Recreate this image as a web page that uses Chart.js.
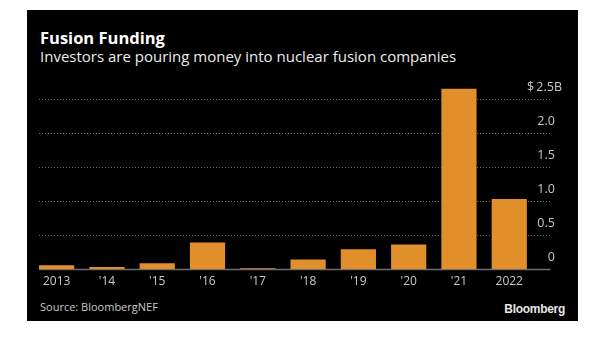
<!DOCTYPE html>
<html>
<head>
<meta charset="utf-8">
<script src="https://cdn.jsdelivr.net/npm/chart.js@4.4.1/dist/chart.umd.min.js"></script>
<style>
  html, body { margin: 0; padding: 0; background: #fff; width: 602px; height: 339px; overflow: hidden; }
  #panel { position: absolute; left: 27px; top: 10px; width: 551px; height: 311px; background: #000; }
  #title { position: absolute; left: 40px; top: 29.5px; color: #fff; font: bold 16.5px/1 "Open Sans", sans-serif; white-space: nowrap; }
  #subtitle { position: absolute; left: 40px; top: 48.5px; color: #ececec; font: 15px/1 "Open Sans", sans-serif; white-space: nowrap; }
  #source { position: absolute; left: 40px; top: 301px; color: #c8c8c8; font: 11px/1 "Open Sans", sans-serif; white-space: nowrap; }
  #logo { position: absolute; right: 37px; top: 302px; color: #e6e6e6; font: bold 12px "Liberation Sans", Arial, sans-serif; letter-spacing: -0.3px; white-space: nowrap; }
  #wrap { position: absolute; left: 0; top: 0; width: 602px; height: 339px; }
</style>
</head>
<body>
<div id="panel"></div>
<div id="title">Fusion Funding</div>
<div id="subtitle">Investors are pouring money into nuclear fusion companies</div>
<div id="source">Source: BloombergNEF</div>
<div id="logo">Bloomberg</div>
<div id="wrap"><canvas id="c" width="602" height="339"></canvas></div>
<script>
// Data (billions of USD)
const categories = ["2013", "'14", "'15", "'16", "'17", "'18", "'19", "'20", "'21", "2022"];
const funding = [0.055, 0.03, 0.085, 0.39, 0.01, 0.14, 0.29, 0.36, 2.65, 1.03];
const yTicks = [0, 0.5, 1.0, 1.5, 2.0, 2.5];
const yTickLabels = ["0", "0.5", "1.0", "1.5", "2.0", "$\u20092.5B"];

const gridPlugin = {
  id: 'bbgGrid',
  beforeDatasetsDraw(chart) {
    const y = chart.scales.y;
    const area = chart.chartArea;
    const ctx = chart.ctx;
    const x0 = area.left + 7.5;
    const x1 = area.right + 16;
    ctx.save();
    y.ticks.forEach(t => {
      const py = Math.round(y.getPixelForValue(t.value)) + 0.5;
      ctx.beginPath();
      if (t.value === 0) {
        ctx.strokeStyle = '#6e6e6e';
        ctx.lineWidth = 1.5;
        ctx.setLineDash([]);
      } else {
        ctx.strokeStyle = '#6a6a6a';
        ctx.lineWidth = 1;
        ctx.setLineDash([1, 2]);
      }
      ctx.moveTo(x0, py);
      ctx.lineTo(x1, py);
      ctx.stroke();
    });
    ctx.restore();
  }
};

new Chart(document.getElementById('c'), {
  type: 'bar',
  data: {
    labels: categories,
    datasets: [{
      data: funding,
      backgroundColor: '#e08f2a',
      borderWidth: 0,
      barPercentage: 0.7,
      categoryPercentage: 1.0
    }]
  },
  options: {
    responsive: false,
    animation: false,
    events: [],
    layout: { padding: { left: 31.5, right: 40, top: 82, bottom: 0 } },
    plugins: { legend: { display: false }, tooltip: { enabled: false }, title: { display: false } },
    scales: {
      x: {
        grid: { display: false, drawTicks: false },
        border: { display: false },
        ticks: {
          color: '#c8c8c8',
          font: { family: "'Open Sans', sans-serif", size: 12 },
          padding: 5,
          maxRotation: 0,
          autoSkip: false
        },
        afterFit(scale) { scale.height = 70; }
      },
      y: {
        position: 'right',
        min: 0,
        max: 2.75,
        grid: { display: false, drawTicks: false },
        border: { display: false },
        afterBuildTicks(scale) { scale.ticks = yTicks.map(v => ({ value: v })); },
        afterFit(scale) { scale.width = 27.6; },
        ticks: {
          color: '#c8c8c8',
          font: { family: "'Open Sans', sans-serif", size: 12.5 },
          mirror: true,
          crossAlign: 'near',
          labelOffset: -12,
          padding: 27.6,
          callback(value) {
            const i = yTicks.indexOf(value);
            if (i === yTicks.length - 1) return yTickLabels[i];
            return i >= 0 ? yTickLabels[i] + '\u2007' : '';
          }
        }
      }
    }
  },
  plugins: [gridPlugin]
});
</script>
</body>
</html>
